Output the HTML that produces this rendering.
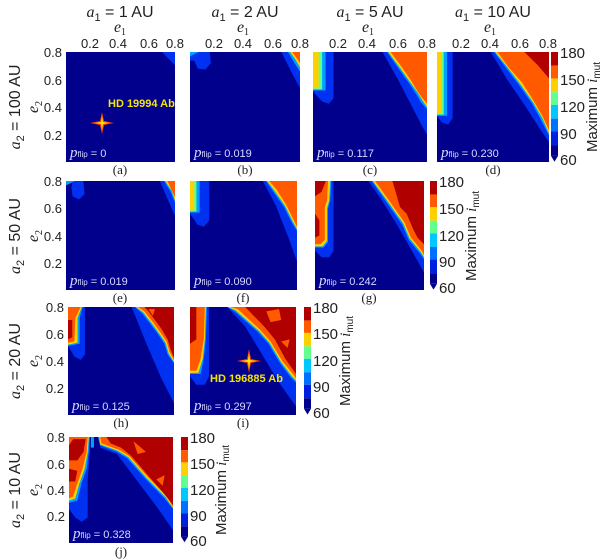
<!DOCTYPE html>
<html><head><meta charset="utf-8"><style>
html,body{margin:0;padding:0;background:#fff;}
svg{display:block;}
.t{font-family:"Liberation Sans",sans-serif;font-size:13px;fill:#222;}
.tt{font-family:"Liberation Sans",sans-serif;font-size:16px;fill:#222;}
.cb{font-family:"Liberation Sans",sans-serif;font-size:15px;fill:#222;}
.pl{font-family:"Liberation Serif",serif;font-size:13px;fill:#222;}
.pf{font-family:"Liberation Sans",sans-serif;font-size:11px;fill:#d8d8ff;}
.pi{font-family:"Liberation Serif",serif;font-style:italic;font-size:15px;fill:#d8d8ff;}
.ps{font-family:"Liberation Sans",sans-serif;font-size:8px;fill:#d8d8ff;}
.it{font-family:"Liberation Serif",serif;font-style:italic;}
.hd{font-family:"Liberation Sans",sans-serif;font-weight:bold;font-size:11px;fill:#f5e600;}
</style></head><body>
<svg width="600" height="559" viewBox="0 0 600 559" xmlns="http://www.w3.org/2000/svg">
<defs>
<g id="cbar">
<rect x="0" y="0" width="7" height="14" fill="#b00000"/>
<rect x="0" y="14" width="7" height="13" fill="#ff5a00"/>
<rect x="0" y="27" width="7" height="14" fill="#ffd000"/>
<rect x="0" y="41" width="7" height="13" fill="#60ff90"/>
<rect x="0" y="54" width="7" height="14" fill="#00c8ff"/>
<rect x="0" y="68" width="7" height="13" fill="#0070ff"/>
<rect x="0" y="81" width="7" height="14" fill="#0020e0"/>
<rect x="0" y="95" width="7" height="11" fill="#00008c"/>
<polygon points="0,106 7,106 3.5,112" fill="#00008c"/>
</g>
</defs>

<!-- column titles -->
<text class="tt" x="120" y="17" text-anchor="middle"><tspan class="it">a</tspan><tspan font-size="11" dy="4">1</tspan><tspan dy="-4"> = 1 AU</tspan></text>
<text class="tt" x="245" y="17" text-anchor="middle"><tspan class="it">a</tspan><tspan font-size="11" dy="4">1</tspan><tspan dy="-4"> = 2 AU</tspan></text>
<text class="tt" x="370" y="17" text-anchor="middle"><tspan class="it">a</tspan><tspan font-size="11" dy="4">1</tspan><tspan dy="-4"> = 5 AU</tspan></text>
<text class="tt" x="493" y="17" text-anchor="middle"><tspan class="it">a</tspan><tspan font-size="11" dy="4">1</tspan><tspan dy="-4"> = 10 AU</tspan></text>
<!-- e1 labels -->
<text class="tt it" x="120" y="32" text-anchor="middle">e<tspan font-size="10" dy="3" font-style="normal">1</tspan></text>
<text class="tt it" x="243" y="32" text-anchor="middle">e<tspan font-size="10" dy="3" font-style="normal">1</tspan></text>
<text class="tt it" x="368" y="32" text-anchor="middle">e<tspan font-size="10" dy="3" font-style="normal">1</tspan></text>
<text class="tt it" x="490" y="32" text-anchor="middle">e<tspan font-size="10" dy="3" font-style="normal">1</tspan></text>
<!-- top ticks labels -->
<g class="t" text-anchor="middle">
<text x="90" y="48">0.2</text><text x="118" y="48">0.4</text><text x="149" y="48">0.6</text><text x="175" y="48">0.8</text>
<text x="214" y="48">0.2</text><text x="243" y="48">0.4</text><text x="273" y="48">0.6</text><text x="300" y="48">0.8</text>
<text x="338" y="48">0.2</text><text x="367" y="48">0.4</text><text x="398" y="48">0.6</text><text x="427" y="48">0.8</text>
<text x="461" y="48">0.2</text><text x="490" y="48">0.4</text><text x="520" y="48">0.6</text><text x="548" y="48">0.8</text>
</g>

<!-- row labels -->
<g class="tt">
<text transform="translate(20,107) rotate(-90)" text-anchor="middle"><tspan class="it">a</tspan><tspan font-size="11" dy="4">2</tspan><tspan dy="-4"> = 100 AU</tspan></text>
<text transform="translate(20,236) rotate(-90)" text-anchor="middle"><tspan class="it">a</tspan><tspan font-size="11" dy="4">2</tspan><tspan dy="-4"> = 50 AU</tspan></text>
<text transform="translate(20,361) rotate(-90)" text-anchor="middle"><tspan class="it">a</tspan><tspan font-size="11" dy="4">2</tspan><tspan dy="-4"> = 20 AU</tspan></text>
<text transform="translate(20,490) rotate(-90)" text-anchor="middle"><tspan class="it">a</tspan><tspan font-size="11" dy="4">2</tspan><tspan dy="-4"> = 10 AU</tspan></text>
<text class="it" transform="translate(38,107) rotate(-90)" text-anchor="middle">e<tspan font-size="10" dy="4" font-style="normal">2</tspan></text>
<text class="it" transform="translate(38,236) rotate(-90)" text-anchor="middle">e<tspan font-size="10" dy="4" font-style="normal">2</tspan></text>
<text class="it" transform="translate(38,361) rotate(-90)" text-anchor="middle">e<tspan font-size="10" dy="4" font-style="normal">2</tspan></text>
<text class="it" transform="translate(38,490) rotate(-90)" text-anchor="middle">e<tspan font-size="10" dy="4" font-style="normal">2</tspan></text>
</g>
<g class="t" text-anchor="end">
<text x="62" y="57">0.8</text><text x="62" y="85">0.6</text><text x="62" y="112">0.4</text><text x="62" y="140">0.2</text>
<text x="62" y="186">0.8</text><text x="62" y="213">0.6</text><text x="62" y="241">0.4</text><text x="62" y="268">0.2</text>
<text x="64" y="312">0.8</text><text x="64" y="339">0.6</text><text x="64" y="366">0.4</text><text x="64" y="393">0.2</text>
<text x="65" y="442">0.8</text><text x="65" y="469">0.6</text><text x="65" y="495">0.4</text><text x="65" y="521">0.2</text>
</g>

<!-- (a) -->
<svg x="66" y="52" width="109" height="110" viewBox="0 0 100 100" preserveAspectRatio="none">
<rect width="100" height="100" fill="#00008c"/>
<polygon points="88,0 100,0 100,12 94,6" fill="#0030f0"/>
</svg>
<!-- (b) -->
<svg x="190" y="52" width="110" height="110" viewBox="0 0 100 100" preserveAspectRatio="none">
<rect width="100" height="100" fill="#00008c"/>
<polygon points="0,0 18,0 19,10 14,16 7,15 4,8 0,8" fill="#0030f0"/>
<polygon points="0,0 8,0 0,4" fill="#00a0ff"/>
<polygon points="83,0 100,0 100,33 92,18" fill="#0030f0"/>
<polygon points="89,0 100,0 100,18 95,10" fill="#00a0ff"/>
<polygon points="91,0 100,0 100,14 96,7" fill="#ffd000"/>
<polygon points="93,0 100,0 100,10" fill="#ff5a00"/>
</svg>
<!-- (c) -->
<svg x="313" y="52" width="114" height="110" viewBox="0 0 100 100" preserveAspectRatio="none">
<rect width="100" height="100" fill="#00008c"/>
<polygon points="0,0 18,0 18,42 14,47 8,45 0,36" fill="#0030f0"/>
<rect x="0" y="0" width="11" height="35" fill="#00a0ff"/>
<rect x="0" y="0" width="8" height="34" fill="#60ff90"/>
<rect x="0" y="0" width="5" height="33" fill="#ffd000"/>
<polygon points="61,0 100,0 100,75 96,68 86,48 74,24" fill="#0030f0"/>
<polygon points="65,0 100,0 100,52 95,46 91,39 84,28 75,15" fill="#00a0ff"/>
<polygon points="66,0 100,0 100,50 96,44 92,37 85,27 76,14" fill="#ffd000"/>
<polygon points="68,0 100,0 100,47 96,42 92,36 86,26 78,14" fill="#ff5a00"/>
</svg>
<!-- (d) -->
<svg x="437" y="52" width="112" height="110" viewBox="0 0 100 100" preserveAspectRatio="none">
<rect width="100" height="100" fill="#00008c"/>
<polygon points="0,0 14,0 14,60 10,66 4,64 0,58" fill="#0030f0"/>
<rect x="0" y="0" width="9" height="58" fill="#00a0ff"/>
<rect x="0" y="0" width="6" height="57" fill="#60ff90"/>
<rect x="0" y="0" width="4" height="56" fill="#ffd000"/>
<polygon points="48,0 100,0 100,82 92,70 78,48 62,24" fill="#0030f0"/>
<polygon points="51,0 100,0 100,76 93,62 85,47 74,31 62,15" fill="#00a0ff"/>
<polygon points="52,0 100,0 100,74 94,60 86,46 75,30 63,14" fill="#ffd000"/>
<polygon points="54,0 100,0 100,71 94,58 86,44 76,28 64,14" fill="#ff5a00"/>
<polygon points="78,0 100,0 100,24 90,12" fill="#b00000"/>
</svg>

<!-- (e) -->
<svg x="66" y="181" width="109" height="109" viewBox="0 0 100 100" preserveAspectRatio="none">
<rect width="100" height="100" fill="#00008c"/>
<polygon points="6,0 16,0 17,12 12,17 6,14 5,6" fill="#0030f0"/>
<polygon points="0,0 8,0 0,4" fill="#00a0ff"/>
<polygon points="86,0 100,0 100,32 93,16" fill="#0030f0"/>
<polygon points="90,0 100,0 100,20 96,10" fill="#00a0ff"/>
<polygon points="91,0 100,0 100,18 97,9" fill="#ffd000"/>
<polygon points="93,0 100,0 100,15" fill="#ff5a00"/>
</svg>
<!-- (f) -->
<svg x="190" y="181" width="107" height="109" viewBox="0 0 100 100" preserveAspectRatio="none">
<rect width="100" height="100" fill="#00008c"/>
<polygon points="0,0 18,0 18,36 13,42 7,40 0,30" fill="#0030f0"/>
<rect x="0" y="0" width="9" height="29" fill="#00a0ff"/>
<rect x="0" y="0" width="6" height="28" fill="#60ff90"/>
<rect x="0" y="0" width="4" height="27" fill="#ffd000"/>
<polygon points="68,0 100,0 100,74 92,52 80,22" fill="#0030f0"/>
<polygon points="71,0 100,0 100,46 95,38 88,24 78,10" fill="#00a0ff"/>
<polygon points="72,0 100,0 100,44 96,37 89,23 79,9" fill="#ffd000"/>
<polygon points="74,0 100,0 100,42 97,36 90,22 81,8" fill="#ff5a00"/>
</svg>
<!-- (g) -->
<svg x="315" y="181" width="109" height="109" viewBox="0 0 100 100" preserveAspectRatio="none">
<rect width="100" height="100" fill="#00008c"/>
<polygon points="0,0 17,0 17,64 13,70 6,70 0,64" fill="#0030f0"/>
<polygon points="0,0 15,0 14,18 12,25 12,56 8,61 0,61" fill="#00a0ff"/>
<polygon points="0,0 14,0 13,18 11,25 11,55 7,60 0,60" fill="#ffd000"/>
<polygon points="0,0 12,0 11,18 9,24 9,54 5,58 0,58" fill="#ff5a00"/>
<polygon points="0,0 10,0 6,10 0,14" fill="#b00000"/>
<polygon points="0,30 4,36 4,50 0,52" fill="#b00000"/>
<polygon points="49,0 100,0 100,84 90,66 74,38 60,16" fill="#0030f0"/>
<polygon points="52,0 100,0 100,72 96,66 86,54 80,40 66,20" fill="#00a0ff"/>
<polygon points="53,0 100,0 100,70 97,65 87,53 81,39 67,19" fill="#ffd000"/>
<polygon points="55,0 100,0 100,68 98,64 88,52 82,38 68,18" fill="#ff5a00"/>
<polygon points="71,0 100,0 100,58 94,52 90,44 84,30 78,24 74,10" fill="#b00000"/>
<circle cx="82" cy="17" r="2.5" fill="#b00000"/>
</svg>

<!-- (h) -->
<svg x="68" y="307" width="106" height="108" viewBox="0 0 100 100" preserveAspectRatio="none">
<rect width="100" height="100" fill="#00008c"/>
<polygon points="0,0 16,0 16,44 12,49 6,46 0,36" fill="#0030f0"/>
<polygon points="0,0 14,0 11,10 11,34 0,36" fill="#00a0ff"/>
<polygon points="0,0 13,0 9,10 9,33 0,35" fill="#ffd000"/>
<polygon points="0,0 12,0 7,10 6,32 0,33" fill="#ff5a00"/>
<polygon points="0,12 4,12 4,28 0,30" fill="#b00000"/>
<polygon points="60,0 100,0 100,89 88,66 74,34" fill="#0030f0"/>
<polygon points="63,0 100,0 100,52 94,44 91,34 84,24 78,16 70,6" fill="#00a0ff"/>
<polygon points="64,0 100,0 100,51 95,43 92,33 85,23 79,15 71,5" fill="#ffd000"/>
<polygon points="66,0 100,0 100,49 96,42 93,32 86,22 80,14 72,4" fill="#ff5a00"/>
<polygon points="72,0 100,0 100,47 97,40 94,30 88,20 82,12 76,4" fill="#b00000"/>
<polygon points="76,2 82,2 80,8" fill="#ff5a00"/>
</svg>
<!-- (i) -->
<svg x="190" y="307" width="106" height="108" viewBox="0 0 100 100" preserveAspectRatio="none">
<rect width="100" height="100" fill="#00008c"/>
<polygon points="0,0 18,0 18,64 14,72 6,72 0,64" fill="#0030f0"/>
<polygon points="0,0 16,0 15,30 13,48 10,62 0,62" fill="#00a0ff"/>
<polygon points="0,0 15,0 14,30 12,48 8,61 0,61" fill="#ffd000"/>
<polygon points="0,0 14,0 13,30 10,48 6,59 0,59" fill="#ff5a00"/>
<polygon points="0,0 6,0 6,30 0,34" fill="#b00000"/>
<polygon points="35,0 100,0 100,92 84,70 68,44 52,18" fill="#0030f0"/>
<polygon points="35,0 100,0 100,70 95,65 85,52 74,34 64,23 42,4" fill="#00a0ff"/>
<polygon points="36,0 100,0 100,68 96,64 86,51 75,33 65,22 43,3" fill="#ffd000"/>
<polygon points="38,0 100,0 100,66 97,62 87,50 76,32 66,21 45,2" fill="#ff5a00"/>
<polygon points="52,0 100,0 100,62 90,48 80,30 70,18 58,6" fill="#b00000"/>
<polygon points="86,32 94,30 92,38" fill="#ff5a00"/>
<polygon points="72,4 84,2 86,12 76,14" fill="#ff5a00"/>
</svg>
<!-- (j) -->
<svg x="69" y="437" width="104" height="106" viewBox="0 0 100 100" preserveAspectRatio="none">
<rect width="100" height="100" fill="#00008c"/>
<polygon points="0,0 20,0 20,14 18,40 18,76 12,80 6,76 0,68" fill="#0030f0"/>
<polygon points="0,0 20,0 19,14 17,30 12,44 8,60 0,62" fill="#00a0ff"/>
<polygon points="0,0 19,0 18,14 15,30 10,44 6,58 0,60" fill="#ffd000"/>
<polygon points="0,0 18,0 17,14 13,30 8,44 4,56 0,58" fill="#ff5a00"/>
<polygon points="4,2 16,2 14,14 8,22 0,22 0,8" fill="#b00000"/>
<polygon points="0,30 8,32 6,42 0,42" fill="#b00000"/>
<rect x="21" y="0" width="3" height="10" fill="#00a0ff"/>
<polygon points="28,0 100,0 100,88 86,68 66,42 46,16 30,10" fill="#0030f0"/>
<polygon points="28,0 100,0 100,68 92,58 74,40 56,20 46,14 30,8" fill="#00a0ff"/>
<polygon points="29,0 100,0 100,67 93,57 75,39 57,19 47,13 30,7" fill="#ffd000"/>
<polygon points="30,0 100,0 100,66 94,56 76,38 58,18 48,12 31,6" fill="#ff5a00"/>
<polygon points="36,0 100,0 100,64 90,52 74,34 60,18 50,10 40,6" fill="#b00000"/>
<polygon points="62,4 74,14 66,16" fill="#ff5a00"/>
<polygon points="84,40 92,36 90,46" fill="#ff5a00"/>
</svg>

<!-- stars & names -->
<g transform="translate(102,123)">
<polygon points="0,-11 2,-2 12,0 2,2 0,11 -2,2 -12,0 -2,-2" fill="#ff4000"/>
<polygon points="0,-7 1,-1 7,0 1,1 0,7 -1,1 -7,0 -1,-1" fill="#ffe600"/>
</g>
<text class="hd" x="108" y="107">HD 19994 Ab</text>
<g transform="translate(249,361)">
<polygon points="0,-12 2,-2 12,0 2,2 0,12 -2,2 -12,0 -2,-2" fill="#ff4000"/>
<polygon points="0,-8 1,-1 8,0 1,1 0,8 -1,1 -8,0 -1,-1" fill="#ffe600"/>
</g>
<text class="hd" x="210" y="382">HD 196885 Ab</text>

<!-- p_flip -->
<text x="70" y="157"><tspan class="pi">p</tspan><tspan class="ps">flip</tspan><tspan class="pf"> = 0</tspan></text>
<text x="194" y="157"><tspan class="pi">p</tspan><tspan class="ps">flip</tspan><tspan class="pf"> = 0.019</tspan></text>
<text x="317" y="157"><tspan class="pi">p</tspan><tspan class="ps">flip</tspan><tspan class="pf"> = 0.117</tspan></text>
<text x="441" y="157"><tspan class="pi">p</tspan><tspan class="ps">flip</tspan><tspan class="pf"> = 0.230</tspan></text>
<text x="70" y="285"><tspan class="pi">p</tspan><tspan class="ps">flip</tspan><tspan class="pf"> = 0.019</tspan></text>
<text x="194" y="285"><tspan class="pi">p</tspan><tspan class="ps">flip</tspan><tspan class="pf"> = 0.090</tspan></text>
<text x="319" y="285"><tspan class="pi">p</tspan><tspan class="ps">flip</tspan><tspan class="pf"> = 0.242</tspan></text>
<text x="72" y="410"><tspan class="pi">p</tspan><tspan class="ps">flip</tspan><tspan class="pf"> = 0.125</tspan></text>
<text x="194" y="410"><tspan class="pi">p</tspan><tspan class="ps">flip</tspan><tspan class="pf"> = 0.297</tspan></text>
<text x="73" y="538"><tspan class="pi">p</tspan><tspan class="ps">flip</tspan><tspan class="pf"> = 0.328</tspan></text>

<!-- panel letters -->
<g class="pl" text-anchor="middle">
<text x="120" y="174">(a)</text><text x="245" y="174">(b)</text><text x="370" y="174">(c)</text><text x="493" y="174">(d)</text>
<text x="120" y="302">(e)</text><text x="243" y="302">(f)</text><text x="369" y="302">(g)</text>
<text x="121" y="427">(h)</text><text x="243" y="427">(i)</text>
<text x="121" y="556">(j)</text>
</g>

<!-- colorbars -->
<g transform="translate(551,52) scale(1,0.98)"><use href="#cbar"/></g>
<g class="cb"><text x="560" y="58">180</text><text x="560" y="85">150</text><text x="560" y="112">120</text><text x="560" y="139">90</text><text x="560" y="165">60</text></g>
<text class="cb" transform="translate(597,107) rotate(-90)" text-anchor="middle">Maximum <tspan class="it">i</tspan><tspan font-size="10" dy="3">mut</tspan></text>

<g transform="translate(430,181) scale(1,0.97)"><use href="#cbar"/></g>
<g class="cb"><text x="439" y="187">180</text><text x="439" y="214">150</text><text x="439" y="241">120</text><text x="439" y="267">90</text><text x="439" y="293">60</text></g>
<text class="cb" transform="translate(476,236) rotate(-90)" text-anchor="middle">Maximum <tspan class="it">i</tspan><tspan font-size="10" dy="3">mut</tspan></text>

<g transform="translate(304,307) scale(1,0.96)"><use href="#cbar"/></g>
<g class="cb"><text x="313" y="313">180</text><text x="313" y="339">150</text><text x="313" y="366">120</text><text x="313" y="392">90</text><text x="313" y="418">60</text></g>
<text class="cb" transform="translate(350,361) rotate(-90)" text-anchor="middle">Maximum <tspan class="it">i</tspan><tspan font-size="10" dy="3">mut</tspan></text>

<g transform="translate(181,437) scale(1,0.94)"><use href="#cbar"/></g>
<g class="cb"><text x="190" y="443">180</text><text x="190" y="469">150</text><text x="190" y="495">120</text><text x="190" y="521">90</text><text x="190" y="546">60</text></g>
<text class="cb" transform="translate(226,490) rotate(-90)" text-anchor="middle">Maximum <tspan class="it">i</tspan><tspan font-size="10" dy="3">mut</tspan></text>
</svg>
</body></html>
